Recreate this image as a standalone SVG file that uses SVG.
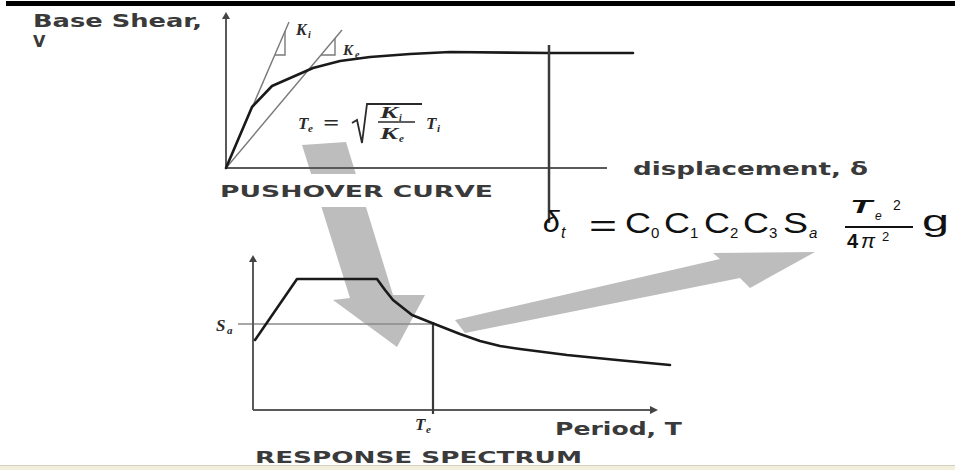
<svg xmlns="http://www.w3.org/2000/svg" width="955" height="470" viewBox="0 0 955 470">
<style>
.lbl{font-family:"DejaVu Sans","Liberation Sans",sans-serif;font-weight:bold;fill:#3a3a3a}
.ax{stroke:#5a5a5a;stroke-width:2;fill:none}
.crv{stroke:#1a1a1a;stroke-width:2.6;fill:none;stroke-linejoin:round;stroke-linecap:round}
.thin{stroke:#7a7a7a;stroke-width:1.4;fill:none}
.math{font-family:"Liberation Serif",serif;font-style:italic;font-weight:bold;fill:#2a2a2a}
.f{font-family:"Liberation Sans",Arial,sans-serif;fill:#111}
.arrow{fill:#bdbdbd}
</style>
<rect width="955" height="470" fill="#ffffff"/>
<rect x="6" y="1" width="949" height="5" fill="#000"/>

<g id="connectors">
  <polygon class="arrow" points="302,145 346,142 393,295 425,295 397,347 333,300 350,298"/>
  <polygon class="arrow" points="455,320 720,259 713,253 815,252 750,288 740,278 465,333"/>
</g>

<g id="pushover">
  <rect x="212" y="174" width="300" height="33" fill="#fff"/>
  <line class="ax" x1="226" y1="168" x2="226" y2="16"/>
  <polygon points="222,19 226,12 230,19" fill="#444"/>
  <line class="ax" x1="226" y1="168" x2="607" y2="168"/>
  <line class="thin" x1="226" y1="168" x2="289" y2="22"/>
  <polyline class="thin" points="285,31 285,55 275,55"/>
  <line class="thin" x1="226" y1="168" x2="342" y2="30"/>
  <polyline class="thin" points="335,38 335,55 321,55"/>
  <path class="crv" d="M226,168 L252,107 L272,86 L313,68 L340,61 L370,57 L410,54 L450,52 L550,53 L633,53"/>
  <line x1="549" y1="45" x2="549" y2="223" stroke="#3a3a3a" stroke-width="2.5"/>
  <text class="math" x="296" y="35" font-size="16">K</text>
  <text class="math" x="308" y="38" font-size="10">i</text>
  <text class="math" x="343" y="55" font-size="15">K</text>
  <text class="math" x="355" y="58" font-size="10">e</text>
  <text class="math" x="298" y="129" font-size="17">T</text>
  <text class="math" x="308" y="132" font-size="11">e</text>
  <text class="math" x="323" y="130" font-size="20" font-style="normal" font-weight="normal" textLength="16" lengthAdjust="spacingAndGlyphs">=</text>
  <polyline points="352,123 357,120 362,143 367,104 422,104" fill="none" stroke="#2a2a2a" stroke-width="1.8"/>
  <text class="math" x="380" y="118" font-size="17" textLength="18" lengthAdjust="spacingAndGlyphs">K</text>
  <text class="math" x="399" y="121" font-size="10">i</text>
  <line x1="378" y1="122" x2="415" y2="122" stroke="#2a2a2a" stroke-width="1.5"/>
  <text class="math" x="380" y="139" font-size="17" textLength="18" lengthAdjust="spacingAndGlyphs">K</text>
  <text class="math" x="399" y="142" font-size="11">e</text>
  <text class="math" x="426" y="129" font-size="17">T</text>
  <text class="math" x="437" y="132" font-size="11">i</text>
  <text class="lbl" x="33" y="27" font-size="18" textLength="169" lengthAdjust="spacingAndGlyphs">Base Shear,</text>
  <text class="lbl" x="33" y="47" font-size="16">V</text>
  <text class="lbl" x="220" y="197" font-size="16" textLength="273" lengthAdjust="spacingAndGlyphs">PUSHOVER CURVE</text>
  <text class="lbl" x="633" y="175" font-size="17" textLength="235" lengthAdjust="spacingAndGlyphs">displacement, δ</text>
</g>

<g id="spectrum">
  <line x1="238" y1="324" x2="433" y2="324" stroke="#8a8a8a" stroke-width="1.5"/>
  <line class="ax" x1="253" y1="410" x2="253" y2="260"/>
  <polygon points="249,262 253,255 257,262" fill="#444"/>
  <line class="ax" x1="253" y1="410" x2="652" y2="410"/>
  <polygon points="650,406 658,410 650,414" fill="#444"/>
  <line x1="433" y1="322" x2="433" y2="414" stroke="#3a3a3a" stroke-width="2.2"/>
  <path class="crv" d="M255,340 L297,279 L377,279 L385,290 L393,300 L412,315 L432,323 L460,334 L480,341 L500,346 L520,349 L567,355 L617,360 L670,365"/>
  <text class="math" x="216" y="331" font-size="17">S</text>
  <text class="math" x="227" y="334" font-size="11">a</text>
  <text class="math" x="415" y="430" font-size="17">T</text>
  <text class="math" x="426" y="433" font-size="11">e</text>
  <text class="lbl" x="555" y="435" font-size="17" textLength="127" lengthAdjust="spacingAndGlyphs">Period, T</text>
  <text class="lbl" x="255" y="463" font-size="16" textLength="327" lengthAdjust="spacingAndGlyphs">RESPONSE SPECTRUM</text>
</g>

<g id="formula">
  <text class="f" x="543" y="232" font-size="30" font-style="italic">δ</text>
  <text class="f" x="561" y="238" font-size="16" font-style="italic">t</text>
  <text class="f" x="589" y="236" font-size="30" textLength="28" lengthAdjust="spacingAndGlyphs">=</text>
  <text class="f" x="625" y="233" font-size="29" textLength="26" lengthAdjust="spacingAndGlyphs">C</text>
  <text class="f" x="651" y="238" font-size="15">0</text>
  <text class="f" x="664" y="233" font-size="29" textLength="26" lengthAdjust="spacingAndGlyphs">C</text>
  <text class="f" x="690" y="238" font-size="15">1</text>
  <text class="f" x="704" y="233" font-size="29" textLength="26" lengthAdjust="spacingAndGlyphs">C</text>
  <text class="f" x="730" y="238" font-size="15">2</text>
  <text class="f" x="743" y="233" font-size="29" textLength="26" lengthAdjust="spacingAndGlyphs">C</text>
  <text class="f" x="769" y="238" font-size="15">3</text>
  <text class="f" x="783" y="233" font-size="29" textLength="25" lengthAdjust="spacingAndGlyphs">S</text>
  <text class="f" x="809" y="238" font-size="15" font-style="italic">a</text>
  <text class="f" x="850" y="213" font-size="19" font-style="italic" font-weight="bold" textLength="22" lengthAdjust="spacingAndGlyphs">T</text>
  <text class="f" x="875" y="220" font-size="12" font-style="italic">e</text>
  <text class="f" x="893" y="210" font-size="14">2</text>
  <line x1="845" y1="227" x2="913" y2="227" stroke="#111" stroke-width="2"/>
  <text class="f" x="847" y="248" font-size="20" font-weight="bold">4</text>
  <text class="f" x="861" y="248" font-size="21" font-style="italic">π</text>
  <text class="f" x="882" y="241" font-size="13">2</text>
  <text class="f" x="922" y="231" font-size="30" textLength="27" lengthAdjust="spacingAndGlyphs">g</text>
</g>

<rect x="0" y="465" width="955" height="5" fill="#f1eedc"/>
<line x1="0" y1="465.5" x2="955" y2="465.5" stroke="#d6d2c0" stroke-width="1"/>
</svg>
